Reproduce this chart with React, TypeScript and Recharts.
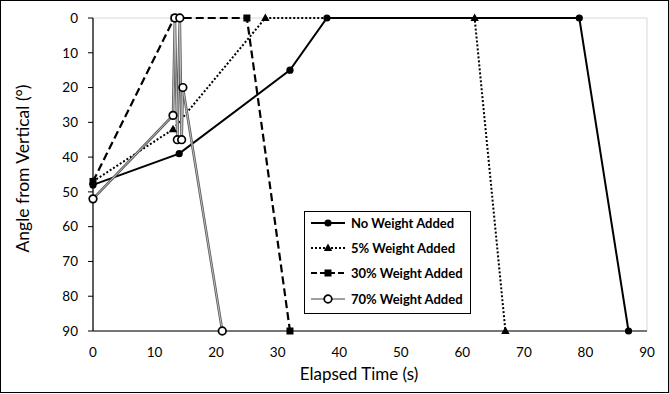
import React from 'react';
import {
  LineChart, Line, XAxis, YAxis, CartesianGrid, Legend,
} from 'recharts';

// elapsed time (s) and angle from vertical (deg) for each run
const noWeightTime = [0, 14, 32, 38, 79, 87];
const noWeightAngle = [48, 39, 15, 0, 0, 90];
const w5Time = [0, 13, 28, 62, 67];
const w5Angle = [47, 32, 0, 0, 90];
const w30Time = [0, 13.2, 25, 32];
const w30Angle = [47, 0, 0, 90];
const w70Time = [0, 13, 13.3, 13.7, 14.1, 14.4, 14.6, 21];
const w70Angle = [52, 28, 0, 35, 0, 35, 20, 90];

const xTicks = [0, 10, 20, 30, 40, 50, 60, 70, 80, 90];
const yTicks = [0, 10, 20, 30, 40, 50, 60, 70, 80, 90];

const seriesNames = ['No Weight Added', '5% Weight Added', '30% Weight Added', '70% Weight Added'];

const toPoints = (t: number[], a: number[]) => t.map((x, i) => ({ x, y: a[i] }));

const noWeight = toPoints(noWeightTime, noWeightAngle);
const w5 = toPoints(w5Time, w5Angle);
const w30 = toPoints(w30Time, w30Angle);
const w70 = toPoints(w70Time, w70Angle);

const FONT = "Lato, 'Open Sans', sans-serif";
const GRAY = '#bdbdbd';
const GRAY_DARK = '#5a5a5a';

const FilledCircle = (p: any) => <circle key={p.key} cx={p.cx} cy={p.cy} r={3.6} fill="#000" />;
const Triangle = (p: any) => (
  <path key={p.key} d={`M${p.cx},${p.cy - 4.5} L${p.cx + 4.2},${p.cy + 3} L${p.cx - 4.2},${p.cy + 3} Z`} fill="#000" />
);
const Square = (p: any) => <rect key={p.key} x={p.cx - 3.5} y={p.cy - 3.5} width={7} height={7} fill="#000" />;
const OpenCircle = (p: any) => (
  <circle key={p.key} cx={p.cx} cy={p.cy} r={3.8} fill="#fff" stroke="#000" strokeWidth={1.7} />
);

const legendDash = [undefined, '2 2', '6 3', undefined];
const legendMarks = [FilledCircle, Triangle, Square, OpenCircle];

const LegendBox = () => (
  <div style={{
    boxSizing: 'border-box', width: '100%', height: '100%', border: '1px solid #000',
    background: '#fff', fontFamily: FONT, fontWeight: 700, fontSize: 13, color: '#000',
  }}>
    <div style={{ transform: 'translateY(-2px)' }}>
      {seriesNames.map((name, i) => {
        const Mark = legendMarks[i];
        return (
          <div key={name} style={{ height: 25.4, display: 'flex', alignItems: 'center' }}>
            <svg width={44} height={12} style={{ marginLeft: 2, flex: 'none' }}>
              {i === 3 ? (
                <line x1={4} x2={38} y1={6} y2={6} stroke="#7f7f7f" strokeWidth={1.6} />
              ) : (
                <line x1={4} x2={38} y1={6} y2={6} stroke="#000" strokeWidth={2} strokeDasharray={legendDash[i]} />
              )}
              <Mark cx={21} cy={6} />
            </svg>
            <span style={{ whiteSpace: 'nowrap' }}>{name}</span>
          </div>
        );
      })}
    </div>
  </div>
);

const YTitle = (props: any) => {
  const { viewBox } = props;
  const cx = viewBox.x + 22;
  const cy = viewBox.y + viewBox.height / 2 - 6;
  return (
    <text x={cx} y={cy} transform={`rotate(-90, ${cx}, ${cy})`} textAnchor="middle"
      dominantBaseline="central" fontFamily={FONT} fontSize={17.5} fill="#000">
      Angle from Vertical (°)
    </text>
  );
};

const XTitle = (props: any) => {
  const { viewBox } = props;
  const cx = viewBox.x + viewBox.width / 2 - 11;
  return (
    <text x={cx} y={viewBox.y + viewBox.height - 14} textAnchor="middle"
      fontFamily={FONT} fontSize={17} fill="#000">
      Elapsed Time (s)
    </text>
  );
};

const tickStyle = { fontFamily: FONT, fontSize: 13.5, fill: '#000' };

export default function App() {
  return (
    <div style={{ position: 'absolute', left: 0, top: 0, width: 669, height: 394, background: '#fff' }}>
      <LineChart width={669} height={394} margin={{ top: 18, right: 22, bottom: 0, left: 0 }}>
        <CartesianGrid stroke="#d9d9d9" strokeWidth={1} />
        <XAxis
          xAxisId="b" type="number" dataKey="x" domain={[0, 90]} ticks={xTicks} height={63}
          tickLine={false} tickSize={6} tickMargin={10}
          axisLine={{ stroke: '#000', strokeWidth: 1.2 }}
          tick={tickStyle}
          label={<XTitle />}
        />
        <XAxis
          xAxisId="t" orientation="top" type="number" domain={[0, 90]} height={0}
          tick={false} tickLine={false} axisLine={{ stroke: '#000', strokeWidth: 1.2 }}
        />
        <YAxis
          yAxisId="l" type="number" dataKey="y" domain={[0, 90]} ticks={yTicks} reversed width={93}
          tickSize={5} tickMargin={10}
          tickLine={{ stroke: '#000' }}
          axisLine={{ stroke: '#000', strokeWidth: 1.2 }}
          tick={tickStyle}
          label={<YTitle />}
        />
        <YAxis
          yAxisId="r" orientation="right" type="number" domain={[0, 90]} width={0}
          tick={false} tickLine={false} axisLine={{ stroke: '#000', strokeWidth: 1.2 }}
        />
        <Line xAxisId="b" yAxisId="l" data={noWeight} dataKey="y" type="linear" stroke="#000" strokeWidth={2}
          dot={FilledCircle} activeDot={false} isAnimationActive={false} />
        <Line xAxisId="b" yAxisId="l" data={w5} dataKey="y" type="linear" stroke="#000" strokeWidth={2} strokeDasharray="2 2"
          dot={Triangle} activeDot={false} isAnimationActive={false} />
        <Line xAxisId="b" yAxisId="l" data={w30} dataKey="y" type="linear" stroke="#000" strokeWidth={2.2} strokeDasharray="8 4"
          dot={Square} activeDot={false} isAnimationActive={false} />
        <Line xAxisId="b" yAxisId="l" data={w70} dataKey="y" type="linear" stroke={GRAY_DARK} strokeWidth={2.6}
          dot={false} activeDot={false} isAnimationActive={false} />
        <Line xAxisId="b" yAxisId="l" data={w70} dataKey="y" type="linear" stroke={GRAY} strokeWidth={1}
          dot={OpenCircle} activeDot={false} isAnimationActive={false} />
        <Legend
          layout="vertical" align="center" verticalAlign="middle"
          wrapperStyle={{ left: 304, top: 211, width: 167, height: 103 }}
          content={<LegendBox />}
        />
      </LineChart>
      <div style={{
        position: 'absolute', left: 0, top: 0, width: 669, height: 393,
        boxSizing: 'border-box', border: '1px solid #000', pointerEvents: 'none',
      }} />
    </div>
  );
}
